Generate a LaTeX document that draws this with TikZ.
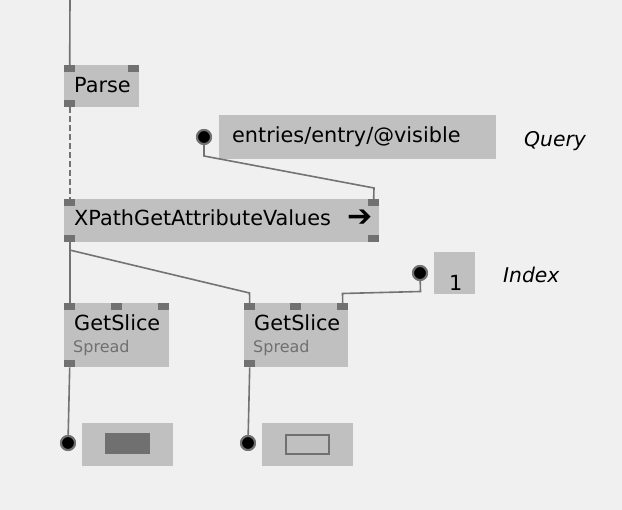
\documentclass[tikz,border=0pt]{standalone}
\usepackage{fontspec}
\setmainfont{DejaVu Sans}
\definecolor{bgc}{HTML}{F0F0F0}
\definecolor{boxc}{HTML}{C0C0C0}
\definecolor{pinc}{HTML}{717171}
\definecolor{linec}{HTML}{737373}
\definecolor{subc}{HTML}{707070}
\tikzset{
  nbox/.style={fill=boxc, draw=none, rectangle, inner sep=0pt, anchor=north west},
  pin/.style={fill=pinc, draw=none, rectangle, inner sep=0pt, minimum width=11, minimum height=7, anchor=north west},
  lbl/.style={inner sep=0pt, anchor=base west, font=\fontsize{20.8}{24}\selectfont},
  sub/.style={inner sep=0pt, anchor=base west, text=subc, font=\fontsize{16}{19}\selectfont},
  note/.style={inner sep=0pt, anchor=base west, font=\fontsize{20.3}{24}\selectfont\itshape},
  wire/.style={draw=linec, line width=1.6pt},
  iopin/.style={circle, fill=black, draw=pinc, line width=2pt, minimum size=14, inner sep=0pt},
}
\begin{document}
\begin{tikzpicture}[x=1pt,y=-1pt]
\fill[bgc] (0,0) rectangle (622,510);
\useasboundingbox (0,0) rectangle (622,510);

% Parse
\coordinate (top) at (70,0);
\node[nbox, minimum width=75, minimum height=42] (parse) at (64,65) {};
\node[pin] (parsein) at (64,65) {};
\node[pin] (parsein2) at (128,65) {};
\node[pin] (parseout) at (64,100) {};
\node[lbl] (parset) at (74,92.5) {Parse};

% Query IOBox
\node[nbox, minimum width=277, minimum height=44] (query) at (219,115) {};
\node[lbl] (queryt) at (232,142.5) {entries/entry/@visible};
\node[iopin] (querypin) at (204,137) {};
\node[note] (queryn) at (524,147) {Query};

% XPath
\node[nbox, minimum width=315, minimum height=43] (xpath) at (64,199) {};
\node[pin] (xin1) at (64,199) {};
\node[pin] (xin2) at (368,199) {};
\node[pin] (xout1) at (64,235) {};
\node[pin] (xout2) at (368,235) {};
\node[lbl] (xpatht) at (74,226) {XPathGetAttributeValues};
\node[lbl, font=\fontsize{30}{32}\selectfont] (xarrow) at (347,227) {➔};

% Index IOBox
\node[nbox, minimum width=41, minimum height=42] (index) at (434,252) {};
\node[lbl] (indext) at (449,291) {1};
\node[iopin] (indexpin) at (420,273) {};
\node[note] (indexn) at (503,283) {Index};

% GetSlice 1
\node[nbox, minimum width=105, minimum height=64] (gs1) at (64,303) {};
\node[pin] (g1in1) at (64,303) {};
\node[pin] (g1in2) at (111,303) {};
\node[pin] (g1in3) at (158,303) {};
\node[pin] (g1out) at (64,360) {};
\node[lbl] (gs1t) at (74,330.5) {GetSlice};
\node[sub] (gs1s) at (73,353) {Spread};

% GetSlice 2
\node[nbox, minimum width=104, minimum height=64] (gs2) at (244,303) {};
\node[pin] (g2in1) at (244,303) {};
\node[pin] (g2in2) at (290,303) {};
\node[pin] (g2in3) at (337,303) {};
\node[pin] (g2out) at (244,360) {};
\node[lbl] (gs2t) at (254,330.5) {GetSlice};
\node[sub] (gs2s) at (253,353) {Spread};

% Output IOBoxes
\node[nbox, minimum width=91, minimum height=43] (out1) at (82,423) {};
\node[fill=subc, inner sep=0pt, minimum width=45, minimum height=21, anchor=north west] (out1v) at (105,433) {};
\node[iopin] (out1pin) at (68,443) {};
\node[nbox, minimum width=91, minimum height=43] (out2) at (262,423) {};
\node[fill=boxc, draw=subc, line width=2pt, inner sep=0pt, minimum width=43, minimum height=19, anchor=north west] (out2v) at (285,434) {};
\node[iopin] (out2pin) at (248,443) {};

% wires
\draw[wire] (top) -- (parsein.north);
\draw[wire, dash pattern=on 6pt off 3pt] (parseout.south) -- (xin1.north);
\draw[wire] (querypin.center) -- (204,156) -- (374,188) -- (xin2.north);
\draw[wire] (xout1.south) -- (g1in1.north);
\draw[wire] (69.5,250) -- (249.5,293) -- (g2in1.north);
\draw[wire] (indexpin.center) -- (420.5,291.5) -- (342.5,293.5) -- (g2in3.north);
\draw[wire] (g1out.south) -- (out1pin.center);
\draw[wire] (g2out.south) -- (out2pin.center);
% redraw pins over wire ends
\node[iopin] at (querypin) {};
\node[iopin] at (indexpin) {};
\node[iopin] at (out1pin) {};
\node[iopin] at (out2pin) {};
\end{tikzpicture}
\end{document}
